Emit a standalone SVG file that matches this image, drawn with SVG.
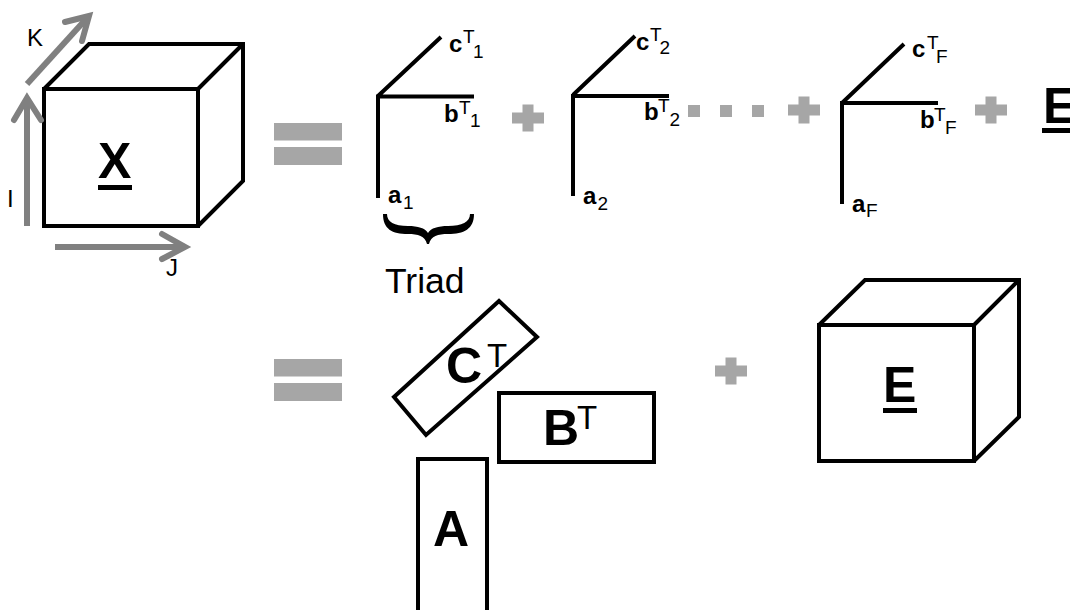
<svg xmlns="http://www.w3.org/2000/svg" width="1070" height="610" viewBox="0 0 1070 610">
<style>
text{font-family:"Liberation Sans",Arial,sans-serif;fill:#000}
.box{fill:#fff;stroke:#000;stroke-width:4;stroke-linejoin:miter}
.edge{fill:none;stroke:#000;stroke-width:4}
.axis{fill:none;stroke:#808080;stroke-width:6}
.head{fill:none;stroke:#808080;stroke-width:6;stroke-linecap:round;stroke-linejoin:miter}
.op{fill:#a6a6a6}
.big{font-size:50px;font-weight:bold}
.sup{font-size:33px}
.b{font-size:24px;font-weight:bold}
.s{font-size:19px}
.lab{font-size:24px}
</style>
<defs>
<path id="plus" class="op" d="M-5.500,-13.500H5.500V-5.500H16V5.500H5.500V13.500H-5.500V5.500H-16V-5.500H-5.500Z"/>
<g id="equals"><rect class="op" x="274" y="0" width="68" height="17.500"/><rect class="op" x="274" y="24" width="68" height="18"/></g>
</defs>
<rect width="1070" height="610" fill="#fff"/>

<g id="cube-x">
<path class="box" d="M44,89V226H198V89ZM44,89L89,44H243V181L198,226M198,89L243,44"/>
<text class="big" x="98" y="178">X</text>
<rect x="98" y="185" width="34" height="5"/>
</g>

<g id="connectors">
<path class="axis" d="M27,226V98"/>
<path class="head" d="M14,120L27,98L41,120"/>
<path class="axis" d="M55,247H185"/>
<path class="head" d="M162,234L185,247L162,259"/>
<path class="axis" d="M27,84L87,18"/>
<path class="head" d="M65,22L89,16L82,41"/>
</g>
<g id="axis-labels">
<text class="lab" x="27" y="46">K</text>
<text class="lab" x="7" y="207">I</text>
<text class="lab" x="166" y="276">J</text>
</g>

<g id="eq-1"><use href="#equals" y="123"/></g>
<g id="eq-2"><use href="#equals" y="359"/></g>

<g id="triad-1">
<path class="edge" d="M441,37L378,96M474,96.500H378V198"/>
<text class="b" x="449" y="52">c</text><text class="s" x="463" y="43">T</text><text class="s" x="473" y="58">1</text>
<text class="b" x="444" y="122">b</text><text class="s" x="459" y="114">T</text><text class="s" x="470" y="127">1</text>
<text class="b" x="388" y="203">a</text><text class="s" x="403" y="209">1</text>
<path d="M383,214C383,229 392,234 408,234C418,234 425,236 427,244H429C431,236 438,234 448,234C464,234 474,229 474,214H470C470,222 462,226 448,226C438,226 431,228 428,233C425,228 418,226 408,226C394,226 387,222 387,214Z"/>
<text x="385" y="293" font-size="35.500">Triad</text>
</g>
<g id="triad-2">
<path class="edge" d="M635,36L573,95M669,96H573V196"/>
<text class="b" x="636" y="50">c</text><text class="s" x="650" y="41">T</text><text class="s" x="659.500" y="54">2</text>
<text class="b" x="644" y="120">b</text><text class="s" x="658" y="112">T</text><text class="s" x="669.500" y="126">2</text>
<text class="b" x="583" y="204">a</text><text class="s" x="597.500" y="210">2</text>
</g>
<g id="triad-f">
<path class="edge" d="M904,44L842,103M938,103H842V204"/>
<text class="b" x="912" y="57">c</text><text class="s" x="927" y="49">T</text><text class="s" x="936" y="63">F</text>
<text class="b" x="920" y="128">b</text><text class="s" x="934" y="121">T</text><text class="s" x="945" y="134">F</text>
<text class="b" x="852" y="212">a</text><text class="s" x="866" y="217">F</text>
</g>

<g id="operators">
<use href="#plus" x="528" y="118"/>
<use href="#plus" x="804" y="110"/>
<use href="#plus" x="991" y="110"/>
<use href="#plus" x="731" y="371"/>
<rect class="op" x="688" y="105" width="12" height="12"/>
<rect class="op" x="720" y="105" width="12" height="12"/>
<rect class="op" x="752" y="105" width="12" height="12"/>
</g>

<g id="e-term">
<text class="big" x="1043" y="123">E</text>
<rect x="1042" y="128" width="28" height="5"/>
</g>

<g id="factor-c">
<path class="box" d="M499,301L537,337L426,435L394,397Z"/>
<text class="big" x="446" y="383">C</text>
<text class="sup" x="487" y="367">T</text>
</g>
<g id="factor-b">
<rect class="box" x="499" y="393" width="155" height="69"/>
<text class="big" x="543" y="445">B</text>
<text class="sup" x="577" y="429">T</text>
</g>
<g id="factor-a">
<rect class="box" x="418" y="459" width="69" height="160"/>
<text class="big" x="433" y="546">A</text>
</g>

<g id="cube-e">
<path class="box" d="M819,325V461H974V325ZM819,325L865,280H1019V417L974,461M974,325L1019,280"/>
<text class="big" x="883" y="402">E</text>
<rect x="883" y="408" width="34" height="5"/>
</g>
</svg>
